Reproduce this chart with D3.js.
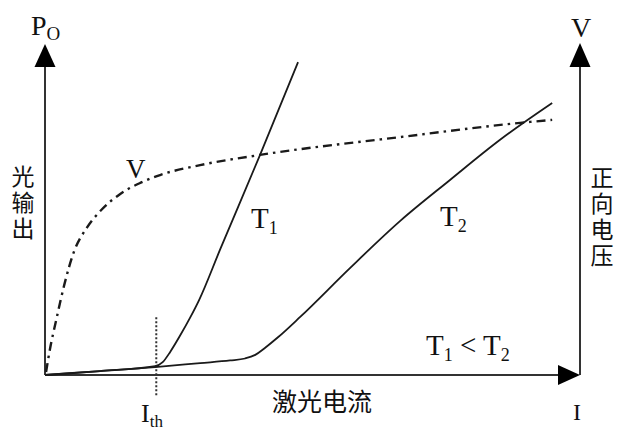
<!DOCTYPE html>
<html><head><meta charset="utf-8">
<script src="https://cdn.jsdelivr.net/npm/d3@7"></script>
<style>body{margin:0;background:#fff}svg{display:block}</style>
</head><body><svg id="c" width="641" height="438"></svg>
<script>
// Data (arbitrary units: current I 0-10, output / voltage 0-10)
const t1Current = [0, 1.03, 2.06, 2.20, 2.34, 2.52, 2.71, 2.88, 3.27, 4.02, 4.73];
const t1Power   = [0, 0.12, 0.27, 0.39, 0.70, 1.18, 1.73, 2.27, 3.79, 6.67, 9.48];
const t2Current = [0, 1.03, 2.06, 2.90, 3.46, 3.74, 3.93, 4.11, 4.36, 4.77, 5.70, 6.64, 7.57, 8.50, 9.48];
const t2Power   = [0, 0.12, 0.24, 0.36, 0.44, 0.50, 0.61, 0.82, 1.15, 1.76, 3.24, 4.67, 5.91, 7.12, 8.24];
const vCurrent  = [0.02, 0.09, 0.21, 0.36, 0.54, 0.79, 1.07, 1.40, 1.78, 2.15, 2.90, 4.02, 6.64, 8.88, 9.48];
const vVoltage  = [0.09, 0.76, 1.67, 2.73, 3.73, 4.48, 5.03, 5.48, 5.82, 6.06, 6.36, 6.67, 7.21, 7.64, 7.73];
const thresholdCurrent = 2.08;
const thresholdRange = [-0.65, 1.75];

const svg = d3.select('#c');
const x = d3.scaleLinear().domain([0, 10]).range([45, 580]);
const y = d3.scaleLinear().domain([0, 10]).range([375, 45]);
const ink = '#1a1a1a';
const serif = '"Liberation Serif", "Times New Roman", serif';
const cjk = '"Noto Sans CJK SC", sans-serif';

const zip = (a, b) => a.map((v, i) => [v, b[i]]);
const line = d3.line().x(d => x(d[0])).y(d => y(d[1])).curve(d3.curveMonotoneX);

// Axes
const [x0, x1] = x.range();
const [y0, y1] = y.range();
svg.append('line').attr('x1', x0).attr('y1', y0).attr('x2', x0).attr('y2', y1 + 18)
  .attr('stroke', '#333').attr('stroke-width', 2);
svg.append('line').attr('x1', x1).attr('y1', y0).attr('x2', x1).attr('y2', y1 + 18)
  .attr('stroke', '#333').attr('stroke-width', 2);
svg.append('line').attr('x1', x0).attr('y1', y0).attr('x2', x1 - 18).attr('y2', y0)
  .attr('stroke', '#333').attr('stroke-width', 2);
// arrow heads
const tri = pts => 'M' + pts.map(p => p.join(',')).join('L') + 'Z';
svg.append('path').attr('d', tri([[x0, y1 - 1], [x0 - 10.5, y1 + 22], [x0 + 10.5, y1 + 22]])).attr('fill', '#000');
svg.append('path').attr('d', tri([[x1, y1 - 2], [x1 - 10.5, y1 + 22], [x1 + 10.5, y1 + 22]])).attr('fill', '#000');
svg.append('path').attr('d', tri([[x1, y0], [x1 - 22, y0 - 10], [x1 - 22, y0 + 10]])).attr('fill', '#000');

// Threshold dotted line
svg.append('line')
  .attr('x1', x(thresholdCurrent)).attr('x2', x(thresholdCurrent))
  .attr('y1', y(thresholdRange[1])).attr('y2', y(thresholdRange[0]))
  .attr('stroke', '#333').attr('stroke-width', 2).attr('stroke-dasharray', '2,2');

// Curves
svg.append('path').attr('d', line(zip(t2Current, t2Power)))
  .attr('fill', 'none').attr('stroke', ink).attr('stroke-width', 1.8);
svg.append('path').attr('d', line(zip(t1Current, t1Power)))
  .attr('fill', 'none').attr('stroke', ink).attr('stroke-width', 1.8);
svg.append('path').attr('d', line(zip(vCurrent, vVoltage)))
  .attr('fill', 'none').attr('stroke', ink).attr('stroke-width', 2.4)
  .attr('stroke-dasharray', '9,5,2.5,5');

// Labels
function sub(parent, main, subText, px, py, size, subSize, shift) {
  const t = parent.append('text').attr('x', px).attr('y', py)
    .attr('font-family', serif).attr('font-size', size).attr('fill', '#111');
  t.append('tspan').text(main);
  t.append('tspan').attr('font-size', subSize).attr('dy', shift).text(subText);
  return t;
}
sub(svg, 'P', 'O', 31, 35, 28, 19, 5);
svg.append('text').attr('x', 581).attr('y', 37).attr('text-anchor', 'middle')
  .attr('font-family', serif).attr('font-size', 28).attr('fill', '#111').text('V');
svg.append('text').attr('x', 126).attr('y', 178)
  .attr('font-family', serif).attr('font-size', 27).attr('fill', '#111').text('V');
sub(svg, 'T', '1', 251, 228, 29, 18, 6);
sub(svg, 'T', '2', 440, 226, 29, 18, 6);
const cmp = svg.append('text').attr('x', 426).attr('y', 355)
  .attr('font-family', serif).attr('font-size', 29).attr('fill', '#111');
cmp.append('tspan').text('T');
cmp.append('tspan').attr('font-size', 18).attr('dy', 6).text('1');
cmp.append('tspan').attr('dy', -6).text(' < T');
cmp.append('tspan').attr('font-size', 18).attr('dy', 6).text('2');

svg.append('text').attr('x', 577).attr('y', 420).attr('text-anchor', 'middle')
  .attr('font-family', serif).attr('font-size', 24).attr('fill', '#111').text('I');
sub(svg, 'I', 'th', 141, 422, 26, 17, 5);

svg.append('text').attr('x', 272).attr('y', 411)
  .attr('font-family', cjk).attr('font-size', 25).attr('fill', '#111').text('激光电流');

svg.append('text').attr('x', 23).attr('y', 165)
  .attr('font-family', cjk).attr('font-size', 23).attr('fill', '#111')
  .style('writing-mode', 'vertical-rl').style('text-orientation', 'upright')
  .attr('letter-spacing', 3).text('光输出');
svg.append('text').attr('x', 602).attr('y', 166)
  .attr('font-family', cjk).attr('font-size', 23).attr('fill', '#111')
  .style('writing-mode', 'vertical-rl').style('text-orientation', 'upright')
  .attr('letter-spacing', 3).text('正向电压');
</script>
</body></html>
